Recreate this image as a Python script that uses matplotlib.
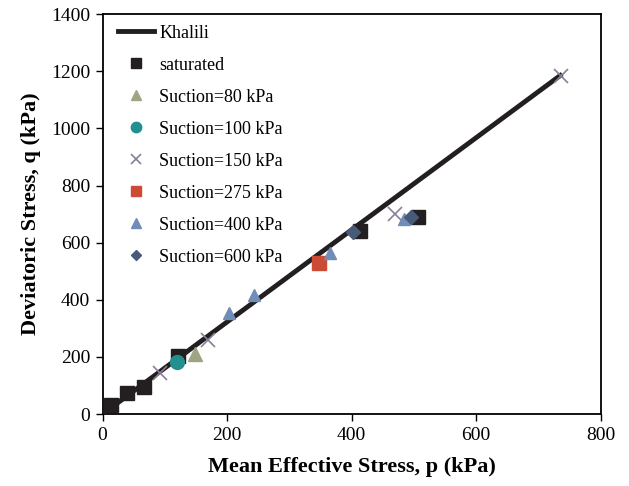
import matplotlib
matplotlib.use("Agg")
import matplotlib.pyplot as plt

plt.rcParams["font.family"] = ["Liberation Serif", "DejaVu Serif"]

# Khalili line end points
line_p = [0, 735]
line_q = [0, 1185]

sat_p = [13, 40, 67, 122, 413, 506]
sat_q = [32, 74, 95, 204, 640, 691]

s80_p = [148]
s80_q = [210]

s100_p = [120]
s100_q = [182]

s150_p = [92, 170, 469, 737]
s150_q = [144, 260, 702, 1182]

s275_p = [347]
s275_q = [530]

s400_p = [203, 243, 366, 484]
s400_q = [354, 418, 565, 684]

s600_p = [402, 495]
s600_q = [638, 691]

fig = plt.figure(figsize=(6.29, 4.86), dpi=100)
ax = fig.add_axes([0.163, 0.148, 0.792, 0.823])

ax.plot(line_p, line_q, color="#231f20", lw=3.5, label="Khalili", zorder=3)
ax.plot(sat_p, sat_q, "s", color="#231f20", ms=10.5, label="saturated", zorder=2)
ax.plot(s80_p, s80_q, "^", color="#9ea583", ms=10, label="Suction=80 kPa", zorder=4)
ax.plot(s100_p, s100_q, "o", color="#22908f", ms=10, label="Suction=100 kPa", zorder=4)
ax.plot(s150_p, s150_q, "x", color="#8a7f99", ms=10, mew=1.2, label="Suction=150 kPa", zorder=4)
ax.plot(s275_p, s275_q, "s", color="#cb4b35", ms=10, label="Suction=275 kPa", zorder=4)
ax.plot(s400_p, s400_q, "^", color="#6f8db6", ms=9, label="Suction=400 kPa", zorder=4)
ax.plot(s600_p, s600_q, "D", color="#475a78", ms=7, label="Suction=600 kPa", zorder=4)

ax.set_xlim(0, 800)
ax.set_ylim(0, 1400)
ax.set_xticks(range(0, 801, 200))
ax.set_yticks(range(0, 1401, 200))
ax.tick_params(direction="out", labelsize=14, length=5, width=1, pad=4)
for s in ax.spines.values():
    s.set_linewidth(1.3)

ax.set_xlabel("Mean Effective Stress, p (kPa)", fontsize=16, fontweight="bold", labelpad=10)
ax.set_ylabel("Deviatoric Stress, q (kPa)", fontsize=16, fontweight="bold", labelpad=7)

leg = ax.legend(loc="upper left", bbox_to_anchor=(0.005, 1.005), frameon=False,
                fontsize=13, labelspacing=0.83, handlelength=2.0,
                handletextpad=0.3, borderaxespad=0.3, markerscale=0.75)

fig.savefig("out.png", dpi=100)
